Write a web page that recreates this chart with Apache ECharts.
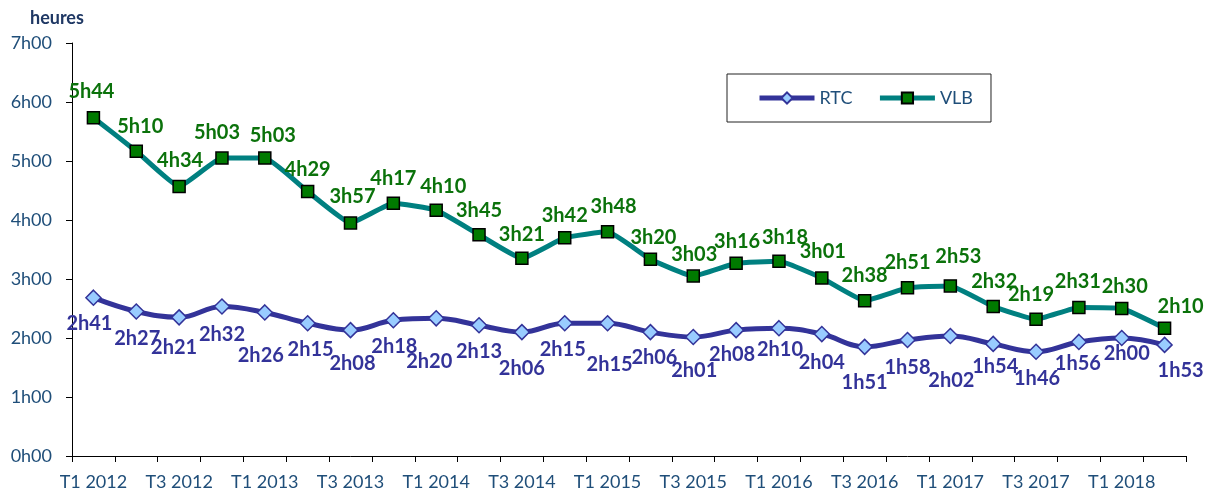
<!DOCTYPE html>
<html>
<head>
<meta charset="utf-8">
<script src="https://cdn.jsdelivr.net/npm/echarts@6/dist/echarts.min.js"></script>
<style>
  html, body { margin: 0; padding: 0; background: #ffffff; }
  #chart { width: 1211px; height: 496px; }
</style>
</head>
<body>
<div id="chart"></div>
<script>
// ---- Data ----
const categories = [
  'T1 2012','T2 2012','T3 2012','T4 2012',
  'T1 2013','T2 2013','T3 2013','T4 2013',
  'T1 2014','T2 2014','T3 2014','T4 2014',
  'T1 2015','T2 2015','T3 2015','T4 2015',
  'T1 2016','T2 2016','T3 2016','T4 2016',
  'T1 2017','T2 2017','T3 2017','T4 2017',
  'T1 2018','T2 2018'
];
// durations in minutes
const rtcMinutes = [161, 147, 141, 152, 146, 135, 128, 138, 140, 133, 126, 135, 135, 126, 121, 128, 130, 124, 111, 118, 122, 114, 106, 116, 120, 113];
const vlbMinutes = [344, 310, 274, 303, 303, 269, 237, 257, 250, 225, 201, 222, 228, 200, 183, 196, 198, 181, 158, 171, 173, 152, 139, 151, 150, 130];
const yTickHours = [0, 1, 2, 3, 4, 5, 6, 7];

// ---- Layout: label offsets (px) relative to each point ----
const vlbLabelOffsets = [
  [-2,-26],[4,-25],[1,-26],[-5,-26],[8,-23],[0,-22],[2,-26],[0,-25],[7,-24],[0,-24],
  [0,-24],[0,-22],[6,-25],[3,-22],[1,-22],[1,-22],[6,-24],[1,-26],[0,-25],[0,-25],
  [8,-29],[1,-25],[-5,-25],[-1,-26],[3,-22],[16,-22]
];
const rtcLabelOffsets = [
  [-4,26],[1,27],[-5,30],[0,28],[-4,43],[3,26],[2,33],[1,26],[-7,43],[0,26],
  [0,36],[-2,26],[2,41],[4,25],[1,34],[-4,24],[1,21],[0,28],[0,36],[0,28],
  [1,45],[2,23],[1,27],[-1,22],[5,16],[16,26]
];

function fmt(min) {
  const h = Math.floor(min / 60);
  const m = Math.round(min - h * 60);
  return h + 'h' + (m < 10 ? '0' : '') + m;
}

function buildData(mins, offsets) {
  return mins.map((m, i) => ({
    value: m / 60,
    minutes: m,
    label: { offset: offsets[i] }
  }));
}

const axisColor = '#1F4E79';
const fontFam = 'Lato, "Open Sans", "DejaVu Sans", sans-serif';

const chart = echarts.init(document.getElementById('chart'), null, { renderer: 'canvas' });

chart.setOption({
  animation: false,
  backgroundColor: '#ffffff',
  title: {
    text: 'heures',
    left: 25,
    top: 4,
    textStyle: { color: '#1F3864', fontSize: 18, fontWeight: 'bold', fontFamily: fontFam }
  },
  legend: {
    left: 727,
    top: 74,
    orient: 'horizontal',
    padding: [15, 18, 15, 30],
    itemGap: 25,
    itemWidth: 55,
    itemHeight: 14,
    borderColor: '#222222',
    borderWidth: 1,
    backgroundColor: '#ffffff',
    lineStyle: { width: 5 },
    textStyle: { color: axisColor, fontSize: 18, fontFamily: fontFam },
    data: [
      { name: 'RTC', lineStyle: { width: 5, color: '#333399' } },
      { name: 'VLB', lineStyle: { width: 5, color: '#008080' } }
    ]
  },
  grid: { left: 72, right: 25, top: 43, bottom: 40, containLabel: false },
  xAxis: {
    type: 'category',
    data: categories,
    boundaryGap: true,
    axisLine: { lineStyle: { color: '#000000', width: 1 } },
    axisTick: { show: true, length: 6, inside: false, interval: 0, lineStyle: { color: '#000000' } },
    axisLabel: {
      interval: 1,
      margin: 17,
      color: axisColor,
      fontSize: 18,
      fontFamily: fontFam
    },
    splitLine: { show: false }
  },
  yAxis: {
    type: 'value',
    min: yTickHours[0],
    max: yTickHours[yTickHours.length - 1],
    interval: 1,
    axisLine: { show: true, lineStyle: { color: '#000000', width: 1 } },
    axisTick: { show: true, length: 6, lineStyle: { color: '#000000' } },
    axisLabel: {
      margin: 20,
      color: axisColor,
      fontSize: 18,
      fontFamily: fontFam,
      formatter: v => v + 'h00'
    },
    splitLine: { show: false }
  },
  series: [
    {
      name: 'RTC',
      type: 'line',
      smooth: 0.4,
      data: buildData(rtcMinutes, rtcLabelOffsets),
      symbol: 'diamond',
      symbolSize: 15,
      lineStyle: { color: '#333399', width: 5 },
      itemStyle: { color: '#99CCFF', borderColor: '#333399', borderWidth: 1.5 },
      label: {
        show: true,
        position: 'inside',
        color: '#333399',
        fontSize: 20,
        fontWeight: 'bold',
        fontFamily: fontFam,
        formatter: p => fmt(p.data.minutes)
      },
      z: 3
    },
    {
      name: 'VLB',
      type: 'line',
      smooth: 0.12,
      data: buildData(vlbMinutes, vlbLabelOffsets),
      symbol: 'rect',
      symbolSize: 12,
      lineStyle: { color: '#008080', width: 5 },
      itemStyle: { color: '#007A00', borderColor: '#000000', borderWidth: 1.5 },
      label: {
        show: true,
        position: 'inside',
        color: '#0B720B',
        fontSize: 20,
        fontWeight: 'bold',
        fontFamily: fontFam,
        formatter: p => fmt(p.data.minutes)
      },
      z: 4
    }
  ]
});
</script>
</body>
</html>
